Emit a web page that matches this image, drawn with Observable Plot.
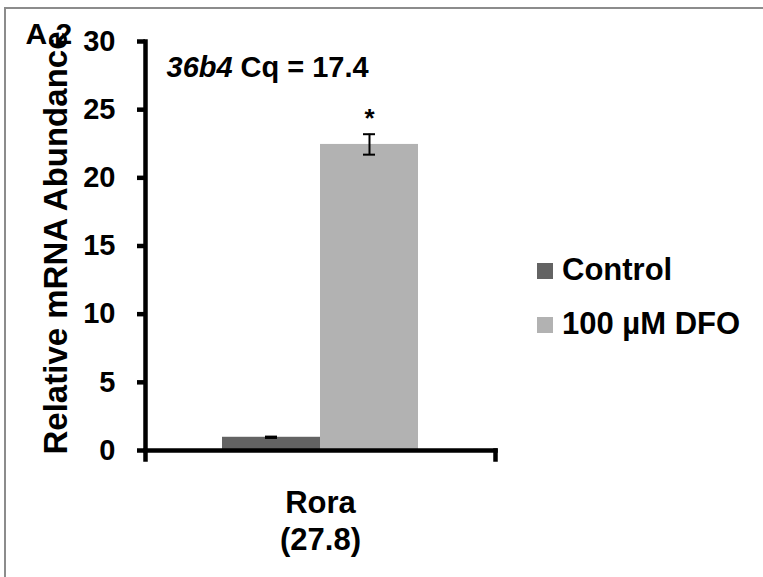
<!DOCTYPE html>
<html>
<head>
<meta charset="utf-8">
<script src="https://cdn.jsdelivr.net/npm/d3@7"></script>
<script src="https://cdn.jsdelivr.net/npm/@observablehq/plot@0.6"></script>
<style>
  body { margin: 0; background: #fff; font-family: "Liberation Sans", Arial, sans-serif; }
  #wrap { position: relative; width: 763px; height: 577px; overflow: hidden; background: #fff; }
  #bt { position: absolute; left: 4px; top: 7px; width: 759px; height: 2px; background: #8c8c8c; }
  #bl { position: absolute; left: 4px; top: 7px; width: 2px; height: 570px; background: #8c8c8c; }
  #chart { position: absolute; left: 0; top: 0; }
  .leg-row { position: absolute; left: 537px; height: 54px; width: 226px; }
  .leg-sw { position: absolute; left: 0; top: 9px; width: 16px; height: 16px; }
  .leg-tx { position: absolute; left: 25px; top: 0; font-size: 31px; line-height: 31px; font-weight: bold; color: #000; white-space: nowrap; }
</style>
</head>
<body>
<div id="wrap">
  <div id="bt"></div>
  <div id="bl"></div>
  <div id="chart"></div>
  <div id="legend"></div>
</div>
<script>
// ---- data ----
const genes = ["Rora"];
const geneCq = [27.8];
const treatments = ["Control", "100 µM DFO"];
const means = [0.97, 22.45];
const errors = [0.05, 0.75];
const significance = ["", "*"];
const colors = ["#636363", "#b2b2b2"];
const yTicks = [0, 5, 10, 15, 20, 25, 30];
const yLabel = "Relative mRNA Abundance";
const panelLabel = "A.2";
const refGene = "36b4";
const refCq = 17.4;

const data = treatments.map((t, i) => ({treatment: t, mean: means[i], err: errors[i], sig: significance[i]}));

// ---- layout ----
const W = 763, H = 577, mT = 41, mB = 127, mL = 145, mR = 268;
const font = '"Liberation Sans", Arial, sans-serif';
const axisW = 4.5;

const chart = Plot.plot({
  width: W, height: H,
  marginTop: mT, marginBottom: mB, marginLeft: mL, marginRight: mR,
  style: {fontFamily: font, background: "transparent", color: "black", overflow: "visible"},
  x: {domain: treatments, paddingInner: 0, paddingOuter: 0.768, axis: null},
  y: {domain: [0, 30], axis: null},
  color: {domain: treatments, range: colors},
  marks: [
    Plot.barY(data, {x: "treatment", y: "mean", fill: "treatment"}),
    Plot.ruleX(data, {x: "treatment", y1: d => d.mean - d.err, y2: d => d.mean + d.err, stroke: "black", strokeWidth: 2}),
    Plot.tickY(data, {x: "treatment", y: d => d.mean + d.err, stroke: "black", strokeWidth: 2, insetLeft: 43, insetRight: 43}),
    Plot.tickY(data, {x: "treatment", y: d => d.mean - d.err, stroke: "black", strokeWidth: 2, insetLeft: 43, insetRight: 43}),
    Plot.text(data.filter(d => d.sig), {x: "treatment", y: d => d.mean + d.err, text: "sig", dy: -16, fontSize: 26, fontWeight: "bold", fill: "black"}),
    Plot.axisY({ticks: yTicks, tickSize: 8, tickPadding: 22, strokeWidth: axisW, stroke: "black", fontSize: 29, fontWeight: "bold", label: null, tickFormat: d => String(d)}),
    Plot.frame({anchor: "left", stroke: "black", strokeWidth: axisW, insetBottom: -9}),
    Plot.frame({anchor: "bottom", stroke: "black", strokeWidth: axisW}),
    Plot.frame({anchor: "right", stroke: "black", strokeWidth: axisW, insetTop: H - mT - mB, insetBottom: -9}),
    Plot.text(genes, {frameAnchor: "bottom", text: (d, i) => `${d}\n(${geneCq[i]})`, textAnchor: "middle", lineAnchor: "top", dy: 36, lineHeight: 1.19, fontSize: 31, fontWeight: "bold", fill: "black"}),
    Plot.text([yLabel], {frameAnchor: "left", text: d => d, rotate: -90, textAnchor: "middle", lineAnchor: "middle", dx: -89.5, dy: -3, fontSize: 33, fontWeight: "bold", fill: "black"}),
    Plot.text([panelLabel], {frameAnchor: "top-left", text: d => d, textAnchor: "start", lineAnchor: "middle", dx: -120, dy: -7.5, fontSize: 30, fontWeight: "bold", fill: "black"}),
    Plot.text([refGene], {frameAnchor: "top-left", text: d => d, textAnchor: "start", lineAnchor: "middle", dx: 21, dy: 26, fontSize: 29, fontWeight: "bold", fontStyle: "italic", fill: "black"}),
    Plot.text([refCq], {frameAnchor: "top-left", text: d => `Cq = ${d}`, textAnchor: "start", lineAnchor: "middle", dx: 95, dy: 26, fontSize: 29, fontWeight: "bold", fill: "black"})
  ]
});
document.getElementById("chart").appendChild(chart);

// ---- legend (built from the plot's color scale) ----
const cs = chart.scale("color");
const legend = document.getElementById("legend");
cs.domain.forEach((name, i) => {
  const row = document.createElement("div");
  row.className = "leg-row";
  row.style.top = (254 + 54 * i) + "px";
  const sw = document.createElement("div");
  sw.className = "leg-sw";
  sw.style.background = cs.range[i];
  const tx = document.createElement("div");
  tx.className = "leg-tx";
  tx.textContent = name;
  row.appendChild(sw);
  row.appendChild(tx);
  legend.appendChild(row);
});
</script>
</body>
</html>
